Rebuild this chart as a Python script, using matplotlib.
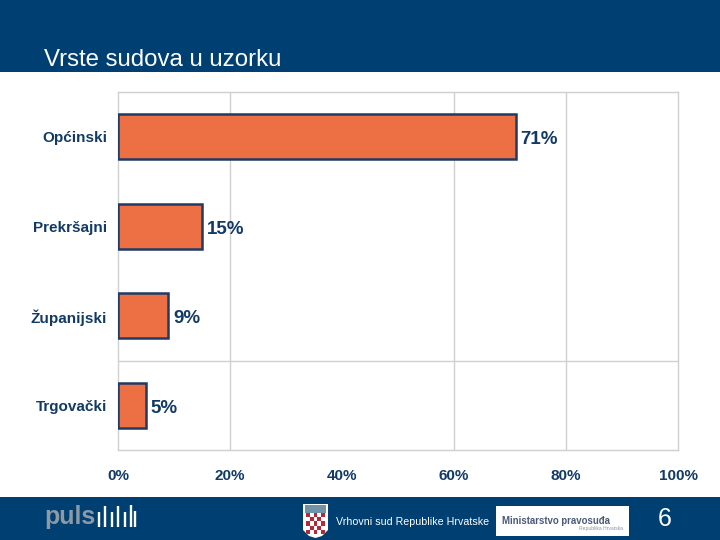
import numpy as np
import matplotlib
matplotlib.use('Agg')
import matplotlib.pyplot as plt
from matplotlib.colors import ListedColormap
from matplotlib.patches import Rectangle, Polygon

plt.rcParams['font.family'] = ['Liberation Sans', 'DejaVu Sans']

categories = ['Općinski', 'Prekršajni', 'Županijski', 'Trgovački']
values = [71, 15, 9, 5]
value_labels = ['71%', '15%', '9%', '5%']
x_ticks = [0, 20, 40, 60, 80, 100]
x_tick_labels = ['0%', '20%', '40%', '60%', '80%', '100%']
# the original only shows some of the gridlines
x_grid = [20, 60, 80]
y_grid = [2.5]

W, H = 720, 540
NAVY = '#003F72'
TEXT = '#123A66'
GRID = '#D0D0D0'

fig = plt.figure(figsize=(W / 100, H / 100), dpi=100, facecolor='white')

# background layer in pixel coords
bg = fig.add_axes([0, 0, 1, 1])
bg.axis('off')
bg.add_patch(Rectangle((0, 0), W, 72, color=NAVY, lw=0))
bg.add_patch(Rectangle((0, 497), W, 43, color=NAVY, lw=0))
bg.text(44, 59.5, 'Vrste sudova u uzorku', color='white', fontsize=17.3, va='center', ha='left')

# puls logo
bg.text(44, 517, 'puls', color='#8C9AA6', fontsize=18, fontweight='bold', va='center', ha='left')
for bx, top in zip([99, 105, 112, 118, 125, 131, 135], [512, 506, 512, 506, 512, 505, 511]):
    bg.plot([bx, bx], [top, 527], color='white', lw=1.7, solid_capstyle='butt')

# crest
shield = Polygon([(303, 504), (328, 504), (328, 530), (322, 536), (315.5, 538), (309, 536), (303, 530)],
                 closed=True, color='white', lw=0)
bg.add_patch(shield)
bg.add_patch(Rectangle((305, 505), 21, 8, color='#6F93A8', lw=0))
checks = np.indices((5, 5)).sum(axis=0) % 2
im = bg.imshow(checks, extent=(306, 325, 534, 513), cmap=ListedColormap(['#B02A3A', 'white']),
               interpolation='nearest', aspect='auto', zorder=3)
im.set_clip_path(shield)
bg.set_xlim(0, W)
bg.set_ylim(H, 0)

bg.text(336, 522, 'Vrhovni sud Republike Hrvatske', color='white', fontsize=7.7, va='center', ha='left')

# ministry logo box
bg.add_patch(Rectangle((496, 506), 133, 30, color='white', lw=0))
bg.text(502, 521, 'Ministarstvo pravosuđa', color='#4A5A78', fontsize=6.9, fontweight='bold', va='center', ha='left')
bg.text(623, 528.5, 'Republika Hrvatska', color='#8A94A6', fontsize=3.6, va='center', ha='right')

bg.text(665, 519.5, '6', color='white', fontsize=18, va='center', ha='center')

# chart
ax = fig.add_axes([118 / W, 1 - 450 / H, 560 / W, 358 / H])
ax.set_facecolor('white')
y = np.arange(len(categories))
ax.barh(y, values, height=0.5, color='#EC7044', edgecolor='#1F3A64', linewidth=1.8, zorder=3)
ax.set_xlim(0, 100)
ax.set_ylim(len(categories) - 0.5, -0.5)

ax.set_xticks(x_ticks)
ax.set_xticklabels(x_tick_labels, fontsize=11, fontweight='bold', color=TEXT)
ax.set_yticks(y)
ax.set_yticklabels(categories, fontsize=11, fontweight='bold', color=TEXT)
ax.tick_params(axis='both', length=0)
ax.tick_params(axis='x', pad=14)
ax.tick_params(axis='y', pad=8)
for g in x_grid:
    ax.axvline(g, color=GRID, lw=1, zorder=0)
for g in y_grid:
    ax.axhline(g, color=GRID, lw=1, zorder=0)
for s in ax.spines.values():
    s.set_color(GRID)
    s.set_linewidth(1)

for i, (v, lab) in enumerate(zip(values, value_labels)):
    ax.annotate(lab, (v, i), xytext=(3.5, -2), textcoords='offset points', va='center', ha='left',
                fontsize=13.5, fontweight='bold', color=TEXT, zorder=4)

fig.savefig('out.png', dpi=100, facecolor='white')
